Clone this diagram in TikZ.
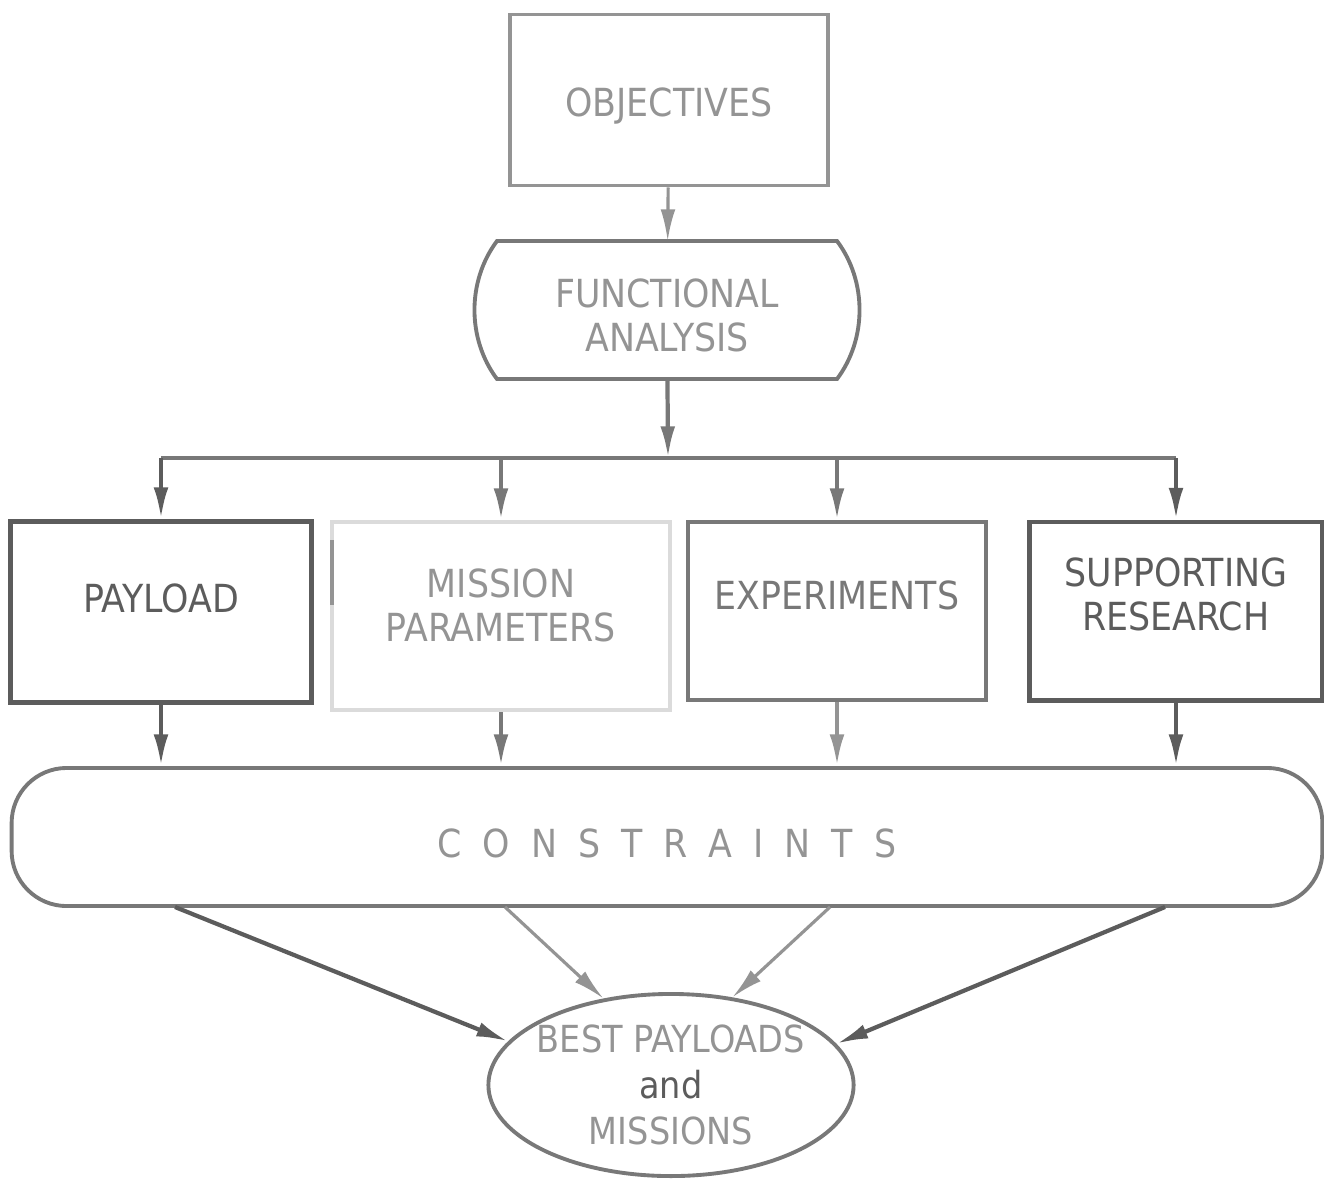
\documentclass[tikz,border=0pt]{standalone}
\usepackage{fontspec}
\setmainfont{DejaVu Sans Condensed}
\usepackage{tikz}
\usetikzlibrary{arrows.meta,positioning,calc,shapes.geometric}
\definecolor{inkdark}{gray}{0.36}
\definecolor{inkmid}{gray}{0.47}
\definecolor{inkpale}{gray}{0.58}
\definecolor{inkfaint}{gray}{0.86}

\begin{document}
\begin{tikzpicture}[x=0.01cm,y=-0.01cm,
  box/.style={draw=inkmid,line width=1.1pt,rectangle,align=center,inner sep=0pt,
    font=\fontsize{11}{12.5}\selectfont},
  link/.style={draw=inkmid,line width=1.2pt,-{Latex[length=9pt,width=4.2pt]}}]
  \useasboundingbox (0,0) rectangle (1324,1178); % 余白ごと全体の大きさを決める

  \node[box,draw=inkpale,text=inkpale,text height=0.4cm,minimum width=3.18cm,minimum height=1.71cm]
    (obj) at (669,100) {OBJECTIVES}; % 最上段の箱
  \node[box,draw=none,text=inkpale,text height=0.84cm,minimum width=3.36cm,minimum height=1.34cm]
    (fa) at (667,310) {FUNCTIONAL\\ANALYSIS}; % 両側がふくらんだ箱の中身
  \draw[line width=1.1pt,draw=inkmid] (fa.north west) -- (fa.north east)
    .. controls +(30,40) and +(30,-40) .. (fa.south east) -- (fa.south west)
    .. controls +(-30,-40) and +(-30,40) .. (fa.north west) -- cycle; % 左右の弧

  \node[box,draw=inkdark,text=inkdark,line width=1.4pt,text depth=0.28cm,
    minimum width=3.0cm,minimum height=1.81cm] (payload) at (161,612) {PAYLOAD};
  \node[box,draw=inkfaint,text=inkpale,text depth=0.22cm,
    minimum width=3.38cm,minimum height=1.88cm] (mission) at (501,616) {MISSION\\PARAMETERS};
  \draw[inkpale,line width=1.2pt] (332,540) -- (332,605); % 左辺の濃く残った部分
  \node[box,text=inkmid,text depth=0.32cm,
    minimum width=2.98cm,minimum height=1.78cm] (exper) at (837,611) {EXPERIMENTS};
  \node[box,draw=inkdark,text=inkdark,line width=1.4pt,text depth=0.34cm,
    minimum width=2.92cm,minimum height=1.78cm] (support) at (1176,611) {SUPPORTING\\RESEARCH};

  \node[box,rounded corners=0.55cm,text=inkpale,text height=0.42cm,minimum width=13.1cm,minimum height=1.38cm]
    (cons) at (667,837) {{\spaceskip=0.21cm C O N S T R A I N T S}}; % 横長の角丸の箱
  \node[ellipse,draw=inkmid,line width=1.1pt,text=inkpale,align=center,inner xsep=-0.4cm,inner ysep=-0.3cm,
    font=\fontsize{10.6}{13}\selectfont,minimum width=3.65cm,minimum height=1.82cm]
    (goal) at (671,1085) {BEST PAYLOADS\\{\color{inkdark}and}\\MISSIONS}; % 最下段の楕円

  \coordinate (bus) at (668,458); % 分岐線の中央
  \coordinate (busL) at (161,458);
  \coordinate (busR) at (1176,458);
  \draw[link,draw=inkpale,line width=0.9pt] (obj) -- (fa);
  \draw[link] (fa) -- (bus);
  \draw[inkmid,line width=1.4pt] (busL) -- (busR); % 横に走る分岐線
  \draw[link,draw=inkdark] (busL) -- (payload);
  \draw[link] (mission.north |- bus) -- (mission);
  \draw[link] (exper.north |- bus) -- (exper);
  \draw[link,draw=inkdark] (busR) -- (support);

  \draw[link,draw=inkdark] (payload) -- (payload |- cons.north);
  \draw[link] (mission) -- (mission |- cons.north);
  \draw[link,draw=inkpale] (exper) -- (exper |- cons.north);
  \draw[link,draw=inkdark] (support) -- (support |- cons.north);

  \coordinate (s1) at (175,907); % 下の枠から出る矢印の根元
  \coordinate (s2) at (505,907);
  \coordinate (s3) at (830,907);
  \coordinate (s4) at (1165,907);
  \draw[link,draw=inkdark] (s1) -- (goal.165);
  \draw[link,draw=inkpale,line width=0.9pt] (s2) -- (goal.128);
  \draw[link,draw=inkpale,line width=0.9pt] (s3) -- (goal.55);
  \draw[link,draw=inkdark] (s4) -- (goal.14);
\end{tikzpicture}
\end{document}
